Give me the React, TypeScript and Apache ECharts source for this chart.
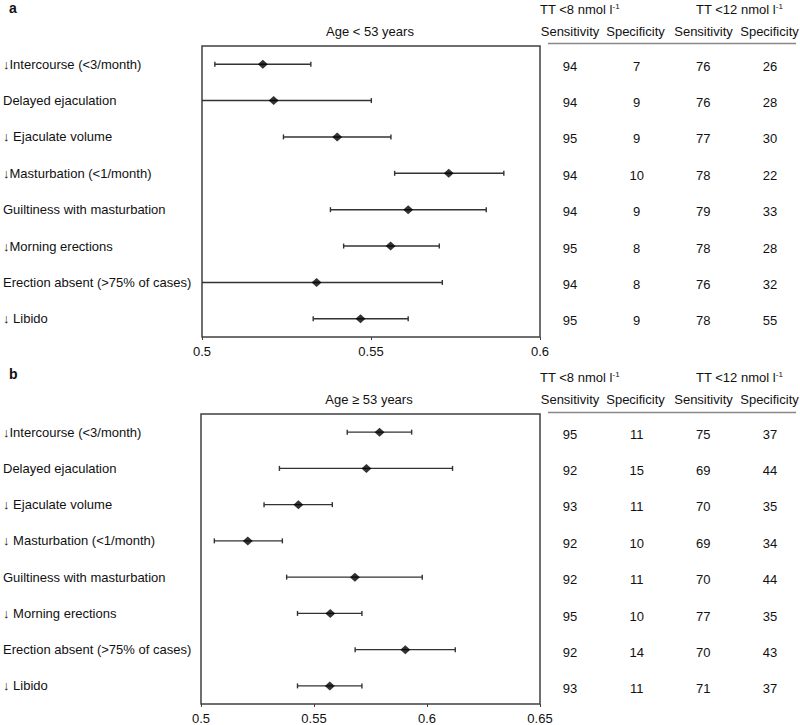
import React, { useEffect, useRef } from 'react';
import * as echarts from 'echarts';

const FONT = '"Liberation Sans", Arial, sans-serif';

const labelsA = [
  '↓Intercourse (<3/month)',
  'Delayed ejaculation',
  '↓ Ejaculate volume',
  '↓Masturbation (<1/month)',
  'Guiltiness with masturbation',
  '↓Morning erections',
  'Erection absent (>75% of cases)',
  '↓ Libido',
];
const labelsB = [
  '↓Intercourse (<3/month)',
  'Delayed ejaculation',
  '↓ Ejaculate volume',
  '↓ Masturbation (<1/month)',
  'Guiltiness with masturbation',
  '↓ Morning erections',
  'Erection absent (>75% of cases)',
  '↓ Libido',
];

const pointA = [0.518, 0.5212, 0.54, 0.573, 0.561, 0.5558, 0.5339, 0.5469];
const lowA = [0.5038, 0.492, 0.5241, 0.557, 0.538, 0.5419, 0.494, 0.5329];
const highA = [0.5322, 0.5501, 0.5559, 0.5893, 0.5841, 0.5702, 0.5711, 0.561];

const pointB = [0.579, 0.5732, 0.5431, 0.5207, 0.5681, 0.5572, 0.5904, 0.557];
const lowB = [0.5647, 0.5347, 0.5279, 0.5059, 0.5379, 0.5427, 0.5682, 0.5427];
const highB = [0.5932, 0.6113, 0.5581, 0.536, 0.5979, 0.5712, 0.6125, 0.5712];

const sens8A = [94, 94, 95, 94, 94, 95, 94, 95];
const spec8A = [7, 9, 9, 10, 9, 8, 8, 9];
const sens12A = [76, 76, 77, 78, 79, 78, 76, 78];
const spec12A = [26, 28, 30, 22, 33, 28, 32, 55];

const sens8B = [95, 92, 93, 92, 92, 95, 92, 93];
const spec8B = [11, 15, 11, 10, 11, 10, 14, 11];
const sens12B = [75, 69, 70, 69, 70, 77, 70, 71];
const spec12B = [37, 44, 35, 34, 44, 35, 43, 37];

const colHeaders = ['Sensitivity', 'Specificity', 'Sensitivity', 'Specificity'];
const ticksA = { min: 0.5, max: 0.6, interval: 0.05 };
const ticksB = { min: 0.5, max: 0.65, interval: 0.05 };

const LINE = '#333';

function errorRender(params: any, api: any) {
  const lo = api.value(0);
  const hi = api.value(1);
  const cat = api.value(2);
  const p1 = api.coord([lo, cat]);
  const p2 = api.coord([hi, cat]);
  const cs = params.coordSys;
  const x0 = Math.max(p1[0], cs.x);
  const x1 = Math.min(p2[0], cs.x + cs.width);
  const y = p1[1];
  const st = { stroke: LINE, lineWidth: 1.4 };
  const children: any[] = [
    { type: 'line', shape: { x1: x0, y1: y, x2: x1, y2: y }, style: st },
  ];
  if (p1[0] >= cs.x - 0.5) {
    children.push({ type: 'line', shape: { x1: p1[0], y1: y - 2.5, x2: p1[0], y2: y + 2.5 }, style: st });
  }
  if (p2[0] <= cs.x + cs.width + 0.5) {
    children.push({ type: 'line', shape: { x1: p2[0], y1: y - 2.5, x2: p2[0], y2: y + 2.5 }, style: st });
  }
  return { type: 'group', children };
}

function tableRender(params: any, api: any) {
  const p = api.coord([api.value(0), api.value(1)]);
  return {
    type: 'text',
    x: p[0],
    y: p[1] + 2,
    style: {
      text: String(api.value(2)),
      font: `13px ${FONT}`,
      fill: '#111',
      align: 'center',
      verticalAlign: 'middle',
      textAlign: 'center',
      textVerticalAlign: 'middle',
    },
  };
}

function tableData(cols: number[][]) {
  const out: number[][] = [];
  cols.forEach((col, c) => col.forEach((v, r) => out.push([c, r, v])));
  return out;
}

export default function App() {
  const ref = useRef<HTMLDivElement>(null);
  useEffect(() => {
    if (!ref.current) return;
    const chart = echarts.init(ref.current, undefined, { renderer: 'svg' });

    const panels = [
      { top: 46, left: 200, width: 340, labels: labelsA, ticks: ticksA, point: pointA, low: lowA, high: highA, table: [sens8A, spec8A, sens12A, spec12A] },
      { top: 414, left: 199, width: 341, labels: labelsB, ticks: ticksB, point: pointB, low: lowB, high: highB, table: [sens8B, spec8B, sens12B, spec12B] },
    ];
    const H = 291;

    const grid: any[] = [];
    const xAxis: any[] = [];
    const yAxis: any[] = [];
    const series: any[] = [];

    panels.forEach((p, i) => {
      const gPlot = i * 2;
      const gTab = i * 2 + 1;
      grid.push({ left: p.left, top: p.top, width: p.width, height: H, show: true, borderColor: '#404040', borderWidth: 1.5, backgroundColor: 'transparent' });
      grid.push({ left: 570, top: p.top, width: 200, height: H, show: false });

      xAxis.push({
        type: 'value', gridIndex: gPlot, min: p.ticks.min, max: p.ticks.max, interval: p.ticks.interval,
        axisLine: { show: false },
        axisTick: { show: true, length: 3, lineStyle: { color: '#404040', width: 1 } },
        splitLine: { show: false },
        axisLabel: { color: '#111', fontSize: 13, fontFamily: FONT, margin: 8 },
      });
      xAxis.push({ type: 'value', gridIndex: gTab, min: 0, max: 3, show: false });

      yAxis.push({
        type: 'category', gridIndex: gPlot, data: p.labels, inverse: true,
        axisLine: { show: false }, axisTick: { show: false }, splitLine: { show: false },
        axisLabel: { interval: 0, align: 'left', margin: p.left - 1, color: '#111', fontSize: 13, fontFamily: FONT },
      });
      yAxis.push({ type: 'category', gridIndex: gTab, data: p.labels, inverse: true, show: false });

      series.push({
        type: 'custom', xAxisIndex: gPlot, yAxisIndex: gPlot,
        renderItem: errorRender,
        encode: { x: [0, 1], y: 2 },
        data: p.low.map((lo, r) => [lo, p.high[r], r]),
        z: 2,
      });
      series.push({
        type: 'scatter', xAxisIndex: gPlot, yAxisIndex: gPlot,
        symbol: 'diamond', symbolSize: [10, 9],
        itemStyle: { color: '#000' },
        data: p.point.map((v, r) => [v, r]),
        z: 3,
      });
      series.push({
        type: 'custom', xAxisIndex: gTab, yAxisIndex: gTab,
        renderItem: tableRender,
        encode: { x: 0, y: 1 },
        data: tableData(p.table),
      });
    });

    const txt = (text: string, x: number, y: number, extra: any = {}) => ({
      type: 'text', x, y,
      style: {
        text, font: `13px ${FONT}`, fill: '#111',
        align: 'left', verticalAlign: 'middle', textAlign: 'left', textVerticalAlign: 'middle',
        ...extra,
      },
    });
    const center = { align: 'center', textAlign: 'center' };
    const colX = [570, 635.5, 703.5, 769.5];

    const graphic: any[] = [];
    const headerY = [{ letter: 'a', ly: 8, ty: 9, hy: 31, line: 43.5, title: 'Age < 53 years', tx: 370 }, { letter: 'b', ly: 374, ty: 377, hy: 399, line: 412.5, title: 'Age ≥ 53 years', tx: 369 }];
    headerY.forEach((h) => {
      graphic.push(txt(h.letter, 9, h.ly, { font: `bold 14px ${FONT}` }));
      graphic.push(txt(h.title, h.tx, h.hy, center));
      const rich = {
        m: { fontSize: 13, fontFamily: FONT, color: '#111', lineHeight: 14 },
        s: { fontSize: 8, fontFamily: FONT, color: '#111', lineHeight: 9, verticalAlign: 'top' },
      };
      graphic.push(txt('{m|TT <8 nmol l}{s|-1}', 540, h.ty, { rich }));
      graphic.push(txt('{m|TT <12 nmol l}{s|-1}', 696, h.ty, { rich }));
      colHeaders.forEach((c, k) => graphic.push(txt(c, colX[k], h.hy, center)));
      graphic.push({ type: 'line', shape: { x1: 548, y1: h.line, x2: 796, y2: h.line }, style: { stroke: '#888', lineWidth: 1.3 } });
    });

    chart.setOption({
      animation: false,
      backgroundColor: '#fff',
      grid, xAxis, yAxis, series, graphic,
    });
    return () => chart.dispose();
  }, []);
  return <div ref={ref} style={{ position: 'absolute', left: 0, top: 0, width: 800, height: 725 }} />;
}
